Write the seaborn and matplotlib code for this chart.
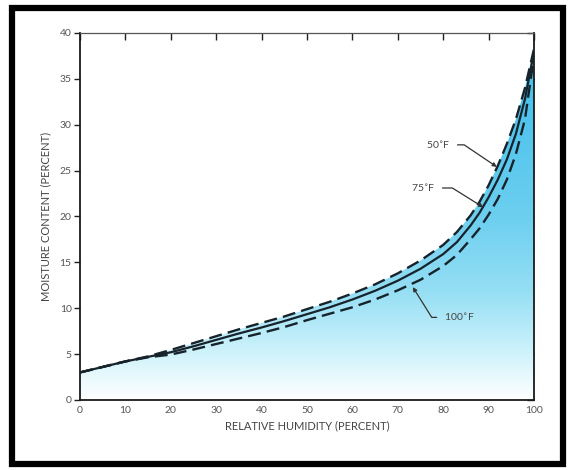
import numpy as np
import pandas as pd
import matplotlib
matplotlib.use("Agg")
import matplotlib.pyplot as plt
import seaborn as sns
from matplotlib.colors import LinearSegmentedColormap
from matplotlib.patches import Rectangle

# valores
umidade = [0, 5, 10, 15, 20, 25, 30, 35, 40, 45, 50, 55, 60, 65, 70, 75, 80, 83, 86, 88, 90, 92, 94, 96, 98, 100]
mc_50f = [3.0, 3.6, 4.2, 4.75, 5.45, 6.2, 6.95, 7.7, 8.4, 9.1, 9.9, 10.7, 11.6, 12.6, 13.8, 15.2,
          16.9, 18.3, 20.1, 21.6, 23.4, 25.5, 27.9, 30.6, 34.0, 38.3]
mc_75f = [3.0, 3.6, 4.2, 4.7, 5.2, 5.85, 6.55, 7.25, 7.9, 8.6, 9.35, 10.1, 10.95, 11.9, 13.0, 14.3,
          15.9, 17.2, 19.0, 20.4, 22.1, 24.0, 26.2, 29.0, 32.8, 38.0]
mc_100f = [3.0, 3.6, 4.2, 4.65, 4.95, 5.5, 6.1, 6.7, 7.3, 7.95, 8.7, 9.4, 10.1, 10.95, 11.95, 13.1,
           14.6, 15.8, 17.5, 18.7, 20.2, 21.9, 24.0, 26.8, 30.6, 37.5]

xticks = list(range(0, 101, 10))
yticks = list(range(0, 41, 5))

df = pd.DataFrame({'RH': umidade, '50F': mc_50f, '75F': mc_75f, '100F': mc_100f})

sns.set_style("white")
plt.rcParams['font.family'] = ['Lato', 'DejaVu Sans']

fig = plt.figure(figsize=(5.69, 4.70), dpi=100)
ax = fig.add_axes([0.1406, 0.149, 0.798, 0.781])

# preenchimento em degradê sob a curva de 50F
xs = np.linspace(0, 100, 600)
top = np.interp(xs, umidade, mc_50f)
poly = ax.fill_between(xs, 0, top, color='none', lw=0)
cmap = LinearSegmentedColormap.from_list(
    'azul', [(0, '#ffffff'), (0.05, '#ecfafd'), (0.15, '#c6f0fa'), (0.3, '#94def4'),
             (0.5, '#6ccff0'), (0.75, '#52c5ed'), (1, '#42beeb')])
grad = np.linspace(0, 1, 256).reshape(-1, 1)
img = ax.imshow(grad, extent=[0, 100, 0, 40], origin='lower', aspect='auto', cmap=cmap, zorder=1)
img.set_clip_path(poly.get_paths()[0], transform=ax.transData)

cor = '#17232b'
sns.lineplot(data=df, x='RH', y='50F', ax=ax, color=cor, lw=1.7, dashes=(5.5, 2.6), zorder=3)
sns.lineplot(data=df, x='RH', y='75F', ax=ax, color=cor, lw=1.6, zorder=3)
sns.lineplot(data=df, x='RH', y='100F', ax=ax, color=cor, lw=1.7, dashes=(5.5, 2.6), zorder=3)

# rotulos com setas
fs = 7.5
seta = dict(arrowstyle='-|>', color='#333333', lw=0.9, mutation_scale=6, shrinkA=3, shrinkB=0)
ax.annotate('50$^{\\circ}$F', xy=(91.8, 25.4), xytext=(81.5, 27.8), fontsize=fs, color='#444444',
            ha='right', va='center',
            arrowprops=dict(seta, connectionstyle='angle,angleA=0,angleB=-34,rad=0'))
ax.annotate('75$^{\\circ}$F', xy=(88.8, 21.0), xytext=(78.2, 23.1), fontsize=fs, color='#444444',
            ha='right', va='center',
            arrowprops=dict(seta, connectionstyle='angle,angleA=0,angleB=-32,rad=0'))
ax.annotate('100$^{\\circ}$F', xy=(73.3, 12.3), xytext=(80.2, 9.0), fontsize=fs, color='#444444',
            ha='left', va='center',
            arrowprops=dict(seta, connectionstyle='angle,angleA=180,angleB=-58,rad=0'))

ax.set_xlim(0, 100)
ax.set_ylim(0, 40)
ax.set_xticks(xticks)
ax.set_yticks(yticks)
ax.set_xlabel('RELATIVE HUMIDITY (PERCENT)', fontsize=8, color='#444444', labelpad=4)
ax.set_ylabel('MOISTURE CONTENT (PERCENT)', fontsize=8, color='#444444', labelpad=6)
ax.tick_params(axis='x', direction='in', length=5, width=1, labelsize=7.5, colors='#222222',
               labelcolor='#555555', top=True, pad=4)
ax.tick_params(axis='y', direction='out', length=4, width=1, labelsize=7.5, colors='#222222',
               labelcolor='#555555', pad=2, left=True, right=False)
for lado in ['left', 'right', 'top', 'bottom']:
    ax.spines[lado].set_visible(True)
    ax.spines[lado].set_color('#1a1a1a')
    ax.spines[lado].set_linewidth(1.3)
ax.spines['top'].set_linewidth(0.9)
ax.spines['top'].set_color('#555555')

# ticks internos do lado direito
sec = ax.secondary_yaxis('right')
sec.set_yticks(yticks)
sec.tick_params(direction='in', length=5, width=1, labelright=False, colors='#222222')
sec.spines['right'].set_visible(False)

# moldura preta
fig.patches.append(Rectangle((0.021, 0.012), 0.968, 0.97, transform=fig.transFigure,
                             fill=False, edgecolor='black', lw=4.5))

fig.savefig('out.png', dpi=100)
